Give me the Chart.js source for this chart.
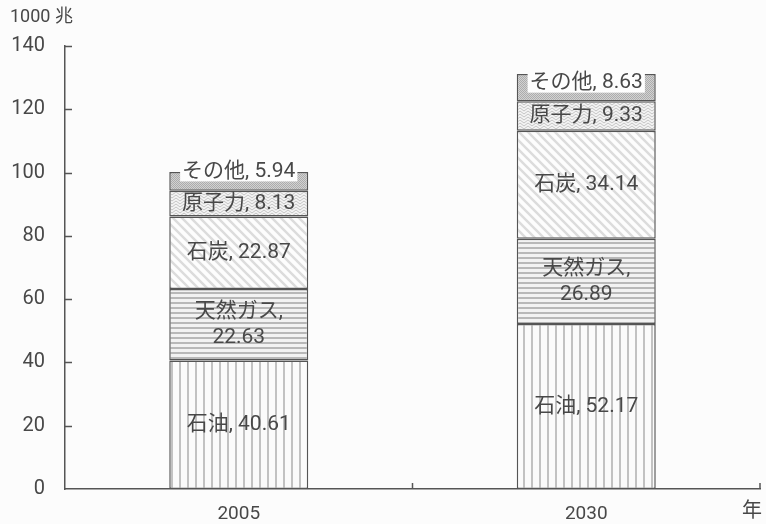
<!DOCTYPE html>
<html>
<head>
<meta charset="utf-8">
<script src="https://cdn.jsdelivr.net/npm/chart.js@4"></script>
<style>
  html, body { margin: 0; padding: 0; background: #fcfcfc; }
  #wrap { position: relative; width: 766px; height: 524px; }
</style>
</head>
<body>
<div id="wrap"><canvas id="energyChart" width="766" height="524"></canvas></div>
<script>
const years = ["2005", "2030"];
const sources = ["石油", "天然ガス", "石炭", "原子力", "その他"];
const oilValues = [40.61, 52.17];
const gasValues = [22.63, 26.89];
const coalValues = [22.87, 34.14];
const nuclearValues = [8.13, 9.33];
const otherValues = [5.94, 8.63];
const yTicks = [0, 20, 40, 60, 80, 100, 120, 140];
const unitLabel = "1000 兆";
const xAxisUnit = "年";

const seriesValues = [oilValues, gasValues, coalValues, nuclearValues, otherValues];

const textColor = "#484848";
const lineColor = "#555";
const fontFamily = "Roboto, 'Noto Sans CJK JP', sans-serif";
const labelFont = "21px " + fontFamily;

function makePattern(kind) {
  const tile = document.createElement("canvas");
  const c = tile.getContext("2d");
  if (kind === "vertical") {
    tile.width = 8; tile.height = 8;
    c.fillStyle = "#fbfbfb"; c.fillRect(0, 0, 8, 8);
    c.fillStyle = "#c2c2c2"; c.fillRect(3, 0, 2, 8);
  } else if (kind === "horizontal") {
    tile.width = 6; tile.height = 5;
    c.fillStyle = "#f2f2f2"; c.fillRect(0, 0, 6, 5);
    c.fillStyle = "#b8b8b8"; c.fillRect(0, 2, 6, 2);
  } else if (kind === "diagonal") {
    tile.width = 9; tile.height = 9;
    c.fillStyle = "#fdfdfd"; c.fillRect(0, 0, 9, 9);
    c.strokeStyle = "#dcdcdc"; c.lineWidth = 2.4;
    c.beginPath();
    c.moveTo(-2, -2); c.lineTo(11, 11);
    c.moveTo(-2, 7); c.lineTo(2, 11);
    c.moveTo(7, -2); c.lineTo(11, 2);
    c.stroke();
  } else if (kind === "herring") {
    tile.width = 8; tile.height = 6;
    c.fillStyle = "#f4f4f4"; c.fillRect(0, 0, 8, 6);
    c.strokeStyle = "#c4c4c4"; c.lineWidth = 1;
    c.beginPath();
    for (let y = -6; y <= 12; y += 3) {
      c.moveTo(0, y); c.lineTo(4, y + 3); c.lineTo(8, y);
    }
    c.stroke();
  } else {
    tile.width = 2; tile.height = 2;
    c.fillStyle = "#d2d2d2"; c.fillRect(0, 0, 2, 2);
    c.fillStyle = "#acacac"; c.fillRect(0, 0, 1, 1); c.fillRect(1, 1, 1, 1);
  }
  return c.createPattern(tile, "repeat");
}

const patternKinds = ["vertical", "horizontal", "diagonal", "herring", "dots"];

const segmentLabelPlugin = {
  id: "segmentLabelPlugin",
  afterDatasetsDraw(chart) {
    const { ctx } = chart;
    ctx.save();
    ctx.font = labelFont;
    ctx.fillStyle = textColor;
    ctx.textAlign = "center";
    ctx.textBaseline = "middle";
    const otherShift = [-10, -5];
    chart.data.datasets.forEach((ds, di) => {
      const meta = chart.getDatasetMeta(di);
      meta.data.forEach((bar, i) => {
        const props = bar.getProps(["x", "y", "base"], true);
        const mid = (props.y + props.base) / 2;
        const value = ds.data[i].toFixed(2);
        const name = sources[di];
        if (name === "天然ガス") {
          ctx.fillText(name + ",", props.x, mid - 13);
          ctx.fillText(value, props.x, mid + 13);
        } else if (name === "その他") {
          const text = name + ", " + value;
          const w = ctx.measureText(text).width + 4;
          const y = mid + otherShift[i];
          ctx.fillStyle = "#fdfdfd";
          ctx.fillRect(props.x - w / 2, y - 10, w, 20);
          ctx.fillStyle = textColor;
          ctx.fillText(text, props.x, y);
        } else {
          ctx.fillText(name + ", " + value, props.x, mid);
        }
      });
    });
    ctx.restore();
  },
};

const axisExtrasPlugin = {
  id: "axisExtrasPlugin",
  afterDraw(chart) {
    const { ctx, chartArea } = chart;
    const yScale = chart.scales.y;
    ctx.save();
    ctx.strokeStyle = lineColor;
    ctx.lineWidth = 1.5;
    ctx.beginPath();
    yTicks.forEach((t) => {
      if (t === 0) return;
      const py = Math.round(yScale.getPixelForValue(t)) + 0.5;
      ctx.moveTo(chartArea.left, py);
      ctx.lineTo(chartArea.left + 7, py);
    });
    const mid = (chartArea.left + chartArea.right) / 2;
    [mid, chartArea.right].forEach((px) => {
      ctx.moveTo(px, chartArea.bottom);
      ctx.lineTo(px, chartArea.bottom - 6);
    });
    ctx.stroke();
    ctx.fillStyle = textColor;
    ctx.font = "18px " + fontFamily;
    ctx.textBaseline = "middle";
    ctx.textAlign = "left";
    ctx.fillText(unitLabel, 10, 17);
    ctx.font = "20px " + fontFamily;
    ctx.textAlign = "center";
    ctx.fillText(xAxisUnit, 752, 512);
    ctx.restore();
  },
};

new Chart(document.getElementById("energyChart"), {
  type: "bar",
  data: {
    labels: years,
    datasets: sources.map((name, i) => ({
      label: name,
      data: seriesValues[i],
      backgroundColor: makePattern(patternKinds[i]),
      borderColor: lineColor,
      borderWidth: 1.5,
      borderSkipped: false,
      barPercentage: 0.4,
      categoryPercentage: 1,
    })),
  },
  options: {
    responsive: false,
    animation: false,
    layout: { padding: { top: 46, right: 6, left: 0, bottom: 0 } },
    scales: {
      x: {
        stacked: true,
        grid: { display: false },
        border: { display: true, color: lineColor, width: 1.5 },
        ticks: { color: textColor, font: { size: 19, family: fontFamily }, padding: 6 },
        afterFit(scale) { scale.height = 35; },
      },
      y: {
        stacked: true,
        min: 0,
        max: 140,
        grid: { display: false },
        border: { display: true, color: lineColor, width: 1.5 },
        afterBuildTicks(scale) { scale.ticks = yTicks.map((v) => ({ value: v })); },
        ticks: { color: textColor, font: { size: 20, family: fontFamily }, padding: 12 },
        afterFit(scale) { scale.width = 65; },
      },
    },
    plugins: {
      legend: { display: false },
      tooltip: { enabled: false },
    },
  },
  plugins: [segmentLabelPlugin, axisExtrasPlugin],
});
</script>
</body>
</html>
